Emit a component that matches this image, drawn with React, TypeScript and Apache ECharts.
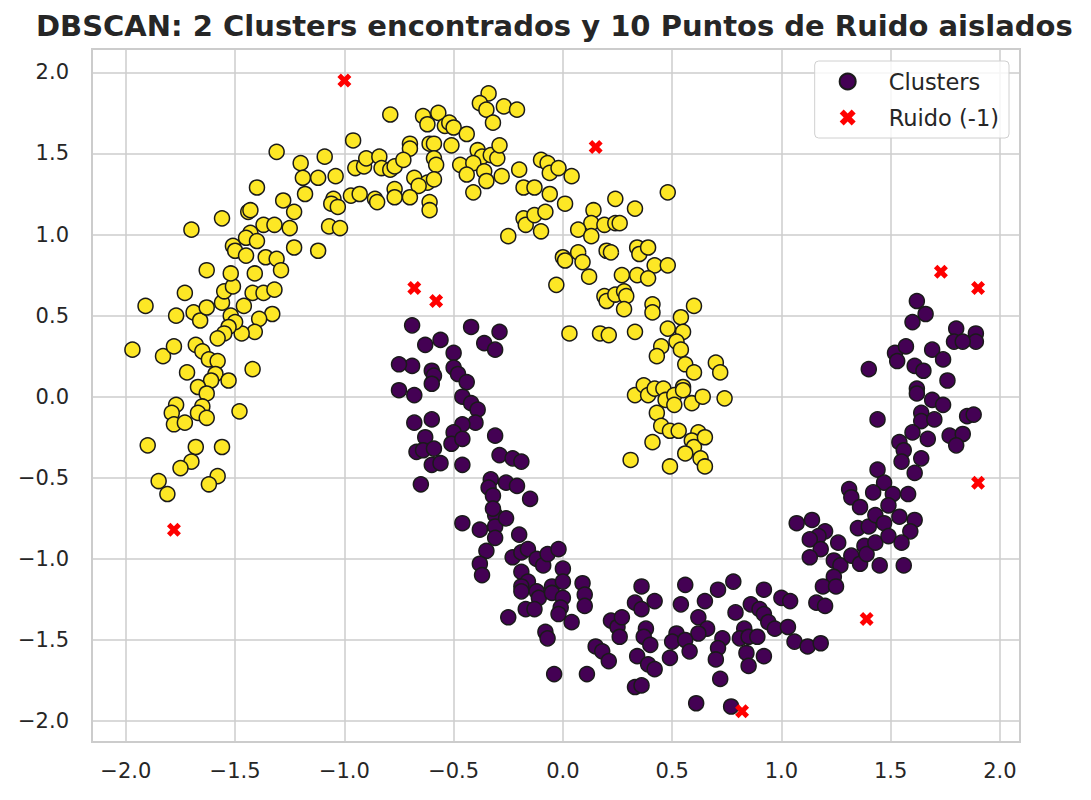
import React, { useEffect, useRef } from 'react';
import * as echarts from 'echarts';

const titleText = 'DBSCAN: 2 Clusters encontrados y 10 Puntos de Ruido aislados';
const legendNames = ['Clusters', 'Ruido (-1)'];

// Cluster 0 (purple, lower moon)
const clusterPurple: [number, number][] = [
  [1.62, 0.59], [1.66, 0.51], [1.60, 0.46], [1.80, 0.42], [1.89, 0.39], [1.89, 0.34], [1.79, 0.34], [1.83, 0.34],
  [1.52, 0.27], [1.57, 0.31], [1.53, 0.22], [1.69, 0.29], [1.74, 0.23], [1.61, 0.19], [1.65, 0.16], [1.40, 0.17],
  [1.76, 0.10], [1.62, 0.05], [1.62, 0.02], [1.69, -0.02], [1.74, -0.05], [1.64, -0.10], [1.64, -0.15], [1.70, -0.14],
  [1.85, -0.12], [1.88, -0.11], [1.44, -0.14], [1.60, -0.22], [1.67, -0.26], [1.77, -0.24], [1.83, -0.23], [1.80, -0.30],
  [1.54, -0.28], [1.56, -0.33], [1.55, -0.40], [1.64, -0.38], [1.61, -0.47], [1.44, -0.45], [1.47, -0.53], [1.42, -0.59],
  [1.51, -0.60], [1.58, -0.60], [1.31, -0.57], [1.32, -0.62], [1.36, -0.68], [1.49, -0.67],
  [1.07, -0.78], [1.14, -0.76], [1.20, -0.83], [1.17, -0.86], [1.13, -0.88], [1.18, -0.94], [1.13, -0.99], [1.26, -0.90],
  [1.24, -1.01], [1.27, -1.04], [1.32, -0.98], [1.36, -1.03], [1.38, -0.92], [1.39, -0.97], [1.35, -0.81], [1.40, -0.80],
  [1.43, -0.73], [1.47, -0.78], [1.43, -0.90], [1.49, -0.86], [1.54, -0.74], [1.61, -0.76], [1.59, -0.83], [1.55, -0.90],
  [1.45, -1.04], [1.56, -1.04], [1.24, -1.11], [1.19, -1.17], [1.25, -1.17], [1.16, -1.27], [1.20, -1.29],
  [0.78, -1.14], [0.71, -1.19], [0.92, -1.19], [1.00, -1.24], [1.04, -1.26], [0.86, -1.28], [0.90, -1.31], [0.92, -1.34],
  [0.79, -1.33], [0.94, -1.39], [0.97, -1.43], [1.03, -1.42], [0.83, -1.43], [0.81, -1.49], [0.85, -1.48], [0.89, -1.48],
  [0.73, -1.49], [0.71, -1.55], [0.70, -1.62], [0.84, -1.58], [0.85, -1.66], [0.92, -1.60], [1.06, -1.51], [1.12, -1.54],
  [1.18, -1.52], [0.72, -1.74], [0.77, -1.91],
  [-0.46, -0.78], [-0.38, -0.82], [-0.31, -0.73], [-0.31, -0.80], [-0.26, -0.75], [-0.31, -0.87], [-0.35, -0.95], [-0.38, -1.03],
  [-0.37, -1.10], [-0.20, -0.85], [-0.23, -0.99], [-0.19, -0.96], [-0.16, -0.94], [-0.12, -1.00], [-0.09, -1.04], [-0.07, -0.97],
  [-0.02, -0.94], [0.00, -1.06], [-0.19, -1.08], [-0.16, -1.14], [-0.19, -1.17], [-0.19, -1.20], [-0.12, -1.20], [-0.11, -1.24],
  [-0.05, -1.17], [-0.05, -1.21], [0.00, -1.14], [0.00, -1.24], [-0.01, -1.30], [-0.02, -1.34], [-0.17, -1.31], [-0.13, -1.31],
  [-0.25, -1.36], [0.04, -1.39], [0.09, -1.15], [0.10, -1.22], [0.10, -1.29], [-0.08, -1.45], [-0.07, -1.49], [-0.04, -1.71],
  [0.11, -1.71], [0.15, -1.54], [0.18, -1.57], [0.21, -1.63], [0.22, -1.38], [0.25, -1.42], [0.27, -1.36], [0.26, -1.48],
  [0.36, -1.17], [0.33, -1.27], [0.36, -1.31], [0.42, -1.26], [0.38, -1.43], [0.37, -1.48], [0.40, -1.53], [0.34, -1.60],
  [0.39, -1.65], [0.42, -1.68], [0.33, -1.79], [0.36, -1.78], [0.56, -1.16], [0.54, -1.28], [0.65, -1.26], [0.62, -1.36],
  [0.66, -1.43], [0.62, -1.46], [0.52, -1.46], [0.50, -1.51], [0.56, -1.50], [0.58, -1.57], [0.49, -1.61], [0.61, -1.89],
  [-0.69, 0.44], [-0.63, 0.32], [-0.56, 0.35], [-0.42, 0.43], [-0.36, 0.33], [-0.31, 0.29], [-0.29, 0.40], [-0.50, 0.27],
  [-0.50, 0.18], [-0.48, 0.14], [-0.44, 0.09], [-0.69, 0.19], [-0.75, 0.20], [-0.60, 0.16], [-0.59, 0.13], [-0.60, 0.08],
  [-0.75, 0.04], [-0.68, 0.01], [-0.46, 0.00], [-0.42, -0.04], [-0.39, -0.08], [-0.40, -0.16], [-0.46, -0.17], [-0.50, -0.22],
  [-0.51, -0.29], [-0.46, -0.26], [-0.68, -0.16], [-0.60, -0.14], [-0.63, -0.25], [-0.67, -0.34], [-0.64, -0.33], [-0.59, -0.32],
  [-0.60, -0.42], [-0.56, -0.41], [-0.46, -0.42], [-0.31, -0.24], [-0.29, -0.36], [-0.23, -0.38], [-0.19, -0.40], [-0.65, -0.54],
  [-0.33, -0.51], [-0.34, -0.56], [-0.32, -0.61], [-0.26, -0.53], [-0.21, -0.55], [-0.15, -0.63], [-0.32, -0.69],
];

// Cluster 1 (yellow, upper moon)
const clusterYellow: [number, number][] = [
  [-1.73, 0.64], [-1.91, 0.56], [-1.77, 0.50], [-1.69, 0.52], [-1.66, 0.47], [-1.63, 0.55], [-1.56, 0.58], [-1.55, 0.65],
  [-1.51, 0.68], [-1.42, 0.64], [-1.37, 0.64], [-1.32, 0.66], [-1.46, 0.56], [-1.33, 0.51], [-1.39, 0.48], [-1.41, 0.40],
  [-1.47, 0.39], [-1.52, 0.50], [-1.50, 0.46], [-1.53, 0.43], [-1.55, 0.39], [-1.58, 0.36], [-1.97, 0.29], [-1.83, 0.25],
  [-1.78, 0.31], [-1.68, 0.32], [-1.65, 0.28], [-1.62, 0.23], [-1.58, 0.22], [-1.72, 0.15], [-1.42, 0.17], [-1.59, 0.14],
  [-1.61, 0.10], [-1.53, 0.10], [-1.67, 0.06], [-1.63, 0.02], [-1.77, -0.05], [-1.79, -0.10], [-1.78, -0.17], [-1.73, -0.16],
  [-1.65, -0.06], [-1.67, -0.10], [-1.63, -0.13], [-1.48, -0.09], [-1.90, -0.30], [-1.68, -0.31], [-1.56, -0.31], [-1.70, -0.40],
  [-1.75, -0.44], [-1.85, -0.52], [-1.81, -0.60], [-1.58, -0.49], [-1.62, -0.54],
  [-0.79, 1.74], [-0.96, 1.58], [-1.31, 1.51], [-1.20, 1.44], [-1.09, 1.48], [-1.19, 1.35], [-1.12, 1.35], [-1.04, 1.36],
  [-0.95, 1.41], [-0.91, 1.42], [-0.90, 1.47], [-0.84, 1.48], [-0.83, 1.41], [-0.79, 1.40], [-0.77, 1.42], [-1.40, 1.29],
  [-1.28, 1.21], [-1.18, 1.25], [-1.05, 1.22], [-1.06, 1.19], [-1.03, 1.17], [-0.97, 1.24], [-0.93, 1.25], [-0.86, 1.22],
  [-0.85, 1.20], [-0.77, 1.28], [-0.77, 1.23], [-1.44, 1.14], [-1.43, 1.15], [-1.56, 1.10], [-1.23, 1.14], [-1.70, 1.03],
  [-1.37, 1.06], [-1.32, 1.06], [-1.25, 1.04], [-1.07, 1.05], [-1.02, 1.04], [-1.43, 1.01], [-1.45, 0.98], [-1.40, 0.96],
  [-1.51, 0.93], [-1.50, 0.90], [-1.45, 0.87], [-1.36, 0.86], [-1.31, 0.85], [-1.23, 0.92], [-1.12, 0.90], [-1.63, 0.78],
  [-1.52, 0.76], [-1.41, 0.76], [-1.29, 0.78],
  [-0.34, 1.87], [-0.38, 1.81], [-0.35, 1.77], [-0.27, 1.79], [-0.21, 1.77], [-0.32, 1.69], [-0.64, 1.73], [-0.57, 1.75],
  [-0.62, 1.68], [-0.54, 1.67], [-0.52, 1.69], [-0.50, 1.66], [-0.44, 1.62], [-0.70, 1.56], [-0.70, 1.53], [-0.61, 1.56],
  [-0.59, 1.56], [-0.51, 1.55], [-0.73, 1.46], [-0.59, 1.47], [-0.58, 1.43], [-0.39, 1.52], [-0.37, 1.48], [-0.33, 1.49],
  [-0.30, 1.47], [-0.29, 1.55], [-0.47, 1.43], [-0.41, 1.44], [-0.44, 1.37], [-0.36, 1.39], [-0.35, 1.33], [-0.28, 1.36],
  [-0.68, 1.35], [-0.62, 1.32], [-0.59, 1.34], [-0.66, 1.30], [-0.70, 1.23], [-0.61, 1.20], [-0.61, 1.15], [-0.41, 1.26],
  [-0.20, 1.40], [-0.10, 1.46], [-0.07, 1.44], [-0.06, 1.38], [-0.02, 1.41], [0.04, 1.36], [-0.18, 1.29], [-0.13, 1.29],
  [-0.06, 1.25], [0.01, 1.19], [-0.18, 1.10], [-0.17, 1.06], [-0.13, 1.12], [-0.08, 1.14], [-0.10, 1.02], [-0.25, 0.99],
  [0.24, 1.22], [0.48, 1.26], [0.33, 1.16], [0.14, 1.15], [0.13, 1.07], [0.19, 1.06], [0.24, 1.07], [0.26, 1.07],
  [0.07, 1.03], [0.13, 0.99], [0.00, 0.86], [0.01, 0.84], [0.07, 0.89], [0.09, 0.83], [0.20, 0.90], [0.22, 0.89],
  [0.34, 0.92], [0.35, 0.88], [0.39, 0.92], [0.42, 0.81], [0.48, 0.81], [0.12, 0.74], [0.27, 0.75], [0.34, 0.75],
  [0.39, 0.73], [-0.03, 0.69],
  [0.19, 0.62], [0.20, 0.59], [0.24, 0.63], [0.28, 0.65], [0.29, 0.62], [0.28, 0.54], [0.41, 0.57], [0.41, 0.52],
  [0.60, 0.56], [0.03, 0.39], [0.17, 0.39], [0.21, 0.38], [0.33, 0.40], [0.54, 0.49], [0.48, 0.42], [0.55, 0.40],
  [0.45, 0.31], [0.52, 0.34], [0.54, 0.29], [0.43, 0.25], [0.56, 0.20], [0.60, 0.15], [0.70, 0.21], [0.72, 0.15],
  [0.74, -0.01], [0.33, 0.01], [0.37, 0.07], [0.39, 0.01], [0.42, 0.05], [0.46, 0.05], [0.47, -0.02], [0.51, 0.01],
  [0.51, -0.05], [0.55, 0.06], [0.55, 0.04], [0.59, -0.04], [0.64, 0.00], [0.43, -0.10], [0.45, -0.18], [0.49, -0.21],
  [0.53, -0.21], [0.62, -0.22], [0.59, -0.27], [0.60, -0.31], [0.65, -0.25], [0.41, -0.28], [0.56, -0.35], [0.63, -0.38],
  [0.65, -0.43], [0.49, -0.43], [0.31, -0.39],
];

// Noise points (label -1)
const noisePoints: [number, number][] = [
  [-1.00, 1.95], [0.15, 1.54], [-0.68, 0.67], [-0.58, 0.59], [1.73, 0.77],
  [1.90, 0.67], [1.90, -0.53], [1.39, -1.37], [0.82, -1.94], [-1.78, -0.82],
];

const X_PATH = 'path://M4,6L2,8L0,6L2,4L0,2L2,0L4,2L6,0L8,2L6,4L8,6L6,8Z';
const FONT = 'DejaVu Sans';

function tickFormatter(v: number): string {
  const r = Math.round(v * 2) / 2;
  if (Math.abs(v - r) > 1e-6) return '';
  const s = Math.abs(r).toFixed(1);
  return r < 0 ? '\u2212' + s : s;
}

export default function App() {
  const ref = useRef<HTMLDivElement>(null);
  useEffect(() => {
    if (!ref.current) return;
    const chart = echarts.init(ref.current, null, { renderer: 'svg' });
    const clusterData = [
      ...clusterPurple.map((p) => ({ value: p, itemStyle: { color: '#440154' } })),
      ...clusterYellow.map((p) => ({ value: p, itemStyle: { color: '#fde725' } })),
    ];
    const axisCommon = {
      type: 'value' as const,
      minInterval: 0.5,
      maxInterval: 0.5,
      splitNumber: 8,
      axisLine: { show: false },
      axisTick: { show: false },
      splitLine: { show: true, lineStyle: { color: '#cccccc', width: 1.5 } },
    };
    chart.setOption({
      animation: false,
      backgroundColor: '#ffffff',
      title: {
        text: titleText,
        left: 31,
        top: 6,
        textStyle: { fontFamily: FONT, fontWeight: 'bold', fontSize: 29, color: '#262626' },
      },
      grid: {
        left: 92,
        top: 49,
        width: 928,
        height: 693,
        show: true,
        borderColor: '#cccccc',
        borderWidth: 2,
        backgroundColor: 'transparent',
      },
      xAxis: {
        ...axisCommon,
        min: -2.155,
        max: 2.092,
        axisLabel: {
          showMinLabel: false,
          showMaxLabel: false,
          formatter: tickFormatter,
          fontSize: 21,
          fontFamily: FONT,
          color: '#262626',
          margin: 18,
        },
      },
      yAxis: {
        ...axisCommon,
        min: -2.129,
        max: 2.144,
        axisLabel: {
          showMinLabel: false,
          showMaxLabel: false,
          formatter: tickFormatter,
          fontSize: 21,
          fontFamily: FONT,
          color: '#262626',
          margin: 23,
        },
      },
      legend: {
        orient: 'vertical',
        right: 82,
        top: 61,
        padding: [9, 10, 9, 24],
        itemWidth: 16,
        itemHeight: 16,
        itemGap: 13,
        backgroundColor: 'rgba(255,255,255,0.8)',
        borderColor: '#d0d0d0',
        borderWidth: 1,
        borderRadius: 4,
        selectedMode: false,
        textStyle: { fontSize: 22.5, fontFamily: FONT, color: '#262626', padding: [0, 0, 0, 28] },
        data: [
          { name: legendNames[0], icon: 'circle' },
          { name: legendNames[1], icon: X_PATH },
        ],
      },
      series: [
        {
          name: legendNames[0],
          type: 'scatter',
          symbol: 'circle',
          symbolSize: 15,
          itemStyle: { color: '#440154', borderColor: '#1a1a1a', borderWidth: 1.5, opacity: 1 },
          emphasis: { disabled: true },
          data: clusterData,
          z: 2,
        },
        {
          name: legendNames[1],
          type: 'scatter',
          symbol: X_PATH,
          symbolSize: 14,
          itemStyle: { color: '#ff0000', borderWidth: 0, opacity: 1 },
          emphasis: { disabled: true },
          data: noisePoints,
          z: 3,
        },
      ],
    });
    return () => chart.dispose();
  }, []);
  return (
    <div
      ref={ref}
      style={{ position: 'absolute', left: 0, top: 0, width: 1091, height: 800, background: '#fff' }}
    />
  );
}
